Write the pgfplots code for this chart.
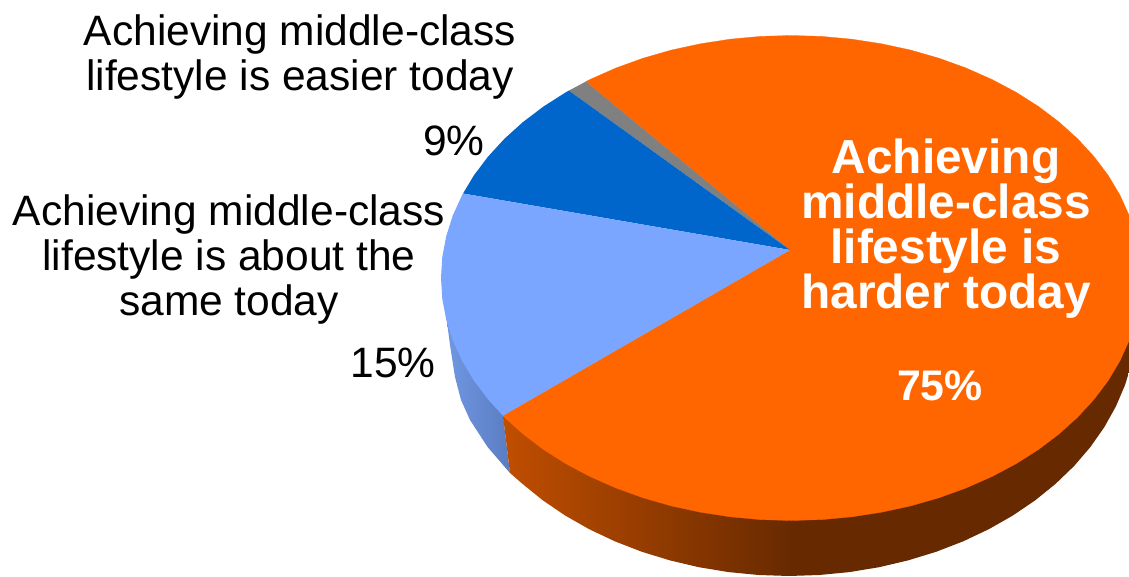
\documentclass[border=0pt]{standalone}
\usepackage{fontspec}
\setmainfont{Liberation Sans}
\usepackage{pgfplots}
\pgfplotsset{compat=1.18}
\definecolor{cOrange}{HTML}{FF6600}
\definecolor{cLight}{HTML}{7AA6FF}
\definecolor{cDark}{HTML}{0066CC}
\definecolor{cGrey}{HTML}{808080}
\definecolor{cSideA}{HTML}{C04E00}
\definecolor{cSideB}{HTML}{662900}
\definecolor{cBlueA}{HTML}{7097E2}
\definecolor{cBlueB}{HTML}{5778BC}
% side of the pie, lit from the left (the path spans 25bp to 75bp of a shading)
\pgfdeclarehorizontalshading{orangeside}{100bp}{color(0bp)=(cSideA); color(25bp)=(cSideA); color(48.5bp)=(cSideB); color(100bp)=(cSideB)}
\begin{document}
\begin{tikzpicture}[
    lbl/.style={font=\fontsize{42.5}{45}\selectfont, align=center, inner sep=0pt, text=black},
    big/.style={font=\fontsize{47.8}{45}\selectfont\bfseries, align=center, inner sep=0pt, text=white},
]
\begin{axis}[
    width=1129pt, height=577pt, scale only axis,
    xmin=0, xmax=1129, ymin=0, ymax=577,
    y dir=reverse,
    hide axis,
    clip mode=individual,
]
% hidden axis adds nothing to the page size
\path (axis cs:0,0) rectangle (axis cs:1129,577);
% blue side
\addplot[left color=cBlueA, right color=cBlueB, draw=none] coordinates {
    (447,322) (450,345) (455,377) (461,400) (470,420) (487.6,447) (503.9,466) (510,473)
    (503,416) (520,330)
} -- cycle;
% orange side
\addplot[shading=orangeside, draw=none] coordinates {
    (503,416) (510,473) (522.4,483.8) (542.9,500.4) (565.3,515.6) (589.4,529.3) (615,541.4)
    (641.9,551.8) (670,560.4) (698.9,567.2) (728.6,572.1) (758.7,575) (789,576) (819.3,575)
    (849.4,572.1) (879.1,567.2) (908,560.4) (936.1,551.8) (963,541.4) (988.6,529.3) (1012.7,515.6)
    (1035.1,500.4) (1055.6,483.8) (1074.1,466) (1090.4,447) (1104.4,427) (1116,406.2) (1125.1,384.8)
    (1129,372) (1129,330) (791,330)
} -- cycle;
% 75 %
\addplot[fill=cOrange, draw=cOrange, line width=0.3pt] coordinates {
    (790,250) (502.9,415.7) (504.3,417.1) (522.9,433.9) (543.5,449.5) (566,463.8) (590.2,476.6)
    (616,488) (643.1,497.8) (671.3,505.9) (700.4,512.2) (730.2,516.8) (760.5,519.6) (791,520.5)
    (821.5,519.6) (851.8,516.8) (881.6,512.2) (910.7,505.9) (938.9,497.8) (966,488) (991.8,476.6)
    (1016,463.8) (1038.5,449.5) (1059.1,433.9) (1077.7,417.1) (1094.1,399.25) (1108.2,380.5)
    (1119.9,360.9) (1129,340.8) (1129,215.2) (1119.9,195.1) (1108.2,175.5) (1094.1,156.75)
    (1077.7,138.9) (1059.1,122.1) (1038.5,106.5) (1016,92.2) (991.8,79.4) (966,68) (938.9,58.2)
    (910.7,50.1) (881.6,43.8) (851.8,39.2) (821.5,36.4) (791,35.5) (760.5,36.4) (730.2,39.2)
    (700.4,43.8) (671.3,50.1) (643.1,58.2) (616,68) (590.2,79.4) (585.8,81.6)
} -- cycle;
% 1 %
\addplot[fill=cGrey, draw=none] coordinates {
    (790,250) (585.8,81.6) (568.9,90.6)
} -- cycle;
% 9 %
\addplot[fill=cDark, draw=none] coordinates {
    (790,250) (568.9,90.6) (566,92.2) (543.5,106.5) (522.9,122.1) (504.3,138.9) (487.9,156.75)
    (473.8,175.5) (463,193.5)
} -- cycle;
% 15 %
\addplot[fill=cLight, draw=none] coordinates {
    (790,250) (463,193.5) (462.1,195.1) (452.9,215.2) (446.3,235.9) (442.3,256.9) (441,278)
    (442.3,299.1) (446.3,320.1) (452.9,340.8) (462.1,360.9) (473.8,380.5) (487.9,399.25) (502.9,415.7)
} -- cycle;
\node[lbl] at (axis cs:300,57.5) {Achieving middle-class\\lifestyle is easier today};
\node[lbl] at (axis cs:229,260) {Achieving middle-class\\lifestyle is about the\\same today};
\node[lbl] at (axis cs:454,141) {9\%};
\node[lbl] at (axis cs:393,363) {15\%};
\node[big] at (axis cs:946,229) {Achieving\\middle-class\\lifestyle is\\harder today};
\node[font=\fontsize{42.8}{45}\selectfont\bfseries, text=white, inner sep=0pt] at (axis cs:940,386) {75\%};
\end{axis}
\end{tikzpicture}
\end{document}
